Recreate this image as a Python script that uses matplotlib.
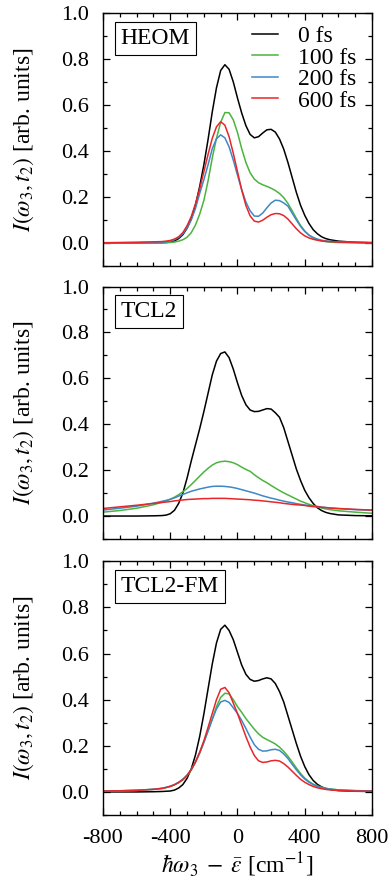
import numpy as np
import matplotlib
matplotlib.use("Agg")
import matplotlib.pyplot as plt
from matplotlib.ticker import MultipleLocator

plt.rcParams['font.family'] = ['Liberation Serif', 'STIXGeneral', 'DejaVu Serif']
plt.rcParams['mathtext.fontset'] = 'stix'
plt.rcParams['axes.unicode_minus'] = False

# energy axis (cm^-1)
energy = [-800, -700, -600, -500,
          -450, -425, -400, -375, -350, -325, -300, -275, -250, -225, -200, -175,
          -150, -125, -100, -75, -50, -25, 0, 25, 50, 75, 100, 125, 150, 175,
          200, 225, 250, 275, 300, 325, 350, 375, 400, 425, 450, 475, 500, 525, 550,
          600, 700, 800]

times = ['0 fs', '100 fs', '200 fs', '600 fs']
colors = ['black', '#4cb33f', '#3f88c5', '#e8262a']
methods = ['HEOM', 'TCL2', 'TCL2-FM']

# HEOM
heom_0 = [0.0, 0.0, 0.0, 0.001,
          0.001, 0.002, 0.004, 0.009, 0.019, 0.036, 0.064, 0.105, 0.165, 0.245, 0.34, 0.45,
          0.57, 0.675, 0.75, 0.775, 0.755, 0.7, 0.63, 0.565, 0.51, 0.472, 0.457, 0.462, 0.478, 0.492,
          0.494, 0.482, 0.452, 0.408, 0.35, 0.285, 0.22, 0.164, 0.12, 0.085, 0.058, 0.04, 0.027, 0.019, 0.014,
          0.008, 0.003, 0.001]
heom_100 = [0.0, 0.0, 0.0, 0.0,
            0.001, 0.001, 0.002, 0.004, 0.008, 0.014, 0.025, 0.045, 0.078, 0.125, 0.185, 0.27,
            0.37, 0.455, 0.525, 0.567, 0.566, 0.535, 0.48, 0.41, 0.35, 0.305, 0.278, 0.262, 0.253, 0.246,
            0.238, 0.228, 0.215, 0.197, 0.172, 0.14, 0.107, 0.076, 0.052, 0.034, 0.022, 0.014, 0.009, 0.006, 0.004,
            0.002, 0.001, 0.0]
heom_200 = [0.001, 0.001, 0.002, 0.003,
            0.004, 0.005, 0.007, 0.014, 0.024, 0.04, 0.065, 0.1, 0.15, 0.215, 0.275, 0.34,
            0.41, 0.453, 0.47, 0.457, 0.418, 0.36, 0.295, 0.232, 0.178, 0.14, 0.117, 0.116, 0.13, 0.153,
            0.174, 0.186, 0.184, 0.174, 0.16, 0.13, 0.1, 0.072, 0.05, 0.034, 0.024, 0.017, 0.012, 0.009, 0.007,
            0.005, 0.003, 0.002]
heom_600 = [0.001, 0.002, 0.003, 0.005,
            0.006, 0.008, 0.011, 0.017, 0.027, 0.045, 0.075, 0.115, 0.17, 0.235, 0.31, 0.385,
            0.455, 0.505, 0.527, 0.512, 0.462, 0.39, 0.31, 0.23, 0.163, 0.118, 0.095, 0.091, 0.099, 0.112,
            0.123, 0.128, 0.127, 0.119, 0.104, 0.083, 0.062, 0.044, 0.031, 0.022, 0.016, 0.012, 0.009, 0.007, 0.006,
            0.004, 0.002, 0.001]

# TCL2
tcl_0 = [0.0, 0.0, 0.0, 0.001,
         0.002, 0.004, 0.01, 0.025, 0.055, 0.1, 0.165, 0.24, 0.31, 0.38, 0.455, 0.535,
         0.615, 0.675, 0.708, 0.715, 0.69, 0.64, 0.58, 0.525, 0.485, 0.462, 0.455, 0.456, 0.462, 0.468,
         0.466, 0.45, 0.43, 0.385, 0.325, 0.265, 0.205, 0.155, 0.112, 0.08, 0.055, 0.036, 0.024, 0.016, 0.011,
         0.005, 0.002, 0.001]
tcl_100 = [0.017, 0.024, 0.034, 0.049,
           0.06, 0.066, 0.073, 0.082, 0.093, 0.106, 0.12, 0.137, 0.155, 0.174, 0.192, 0.208,
           0.222, 0.232, 0.237, 0.239, 0.237, 0.232, 0.224, 0.213, 0.203, 0.195, 0.18, 0.167, 0.155, 0.145,
           0.133, 0.122, 0.111, 0.101, 0.092, 0.083, 0.074, 0.065, 0.058, 0.051, 0.045, 0.04, 0.035, 0.031, 0.028,
           0.023, 0.017, 0.012]
tcl_200 = [0.026, 0.034, 0.043, 0.056,
           0.064, 0.068, 0.073, 0.079, 0.087, 0.094, 0.101, 0.108, 0.113, 0.118, 0.122, 0.126,
           0.129, 0.13, 0.13, 0.129, 0.127, 0.124, 0.12, 0.115, 0.11, 0.105, 0.1, 0.094, 0.088, 0.083,
           0.078, 0.074, 0.069, 0.065, 0.061, 0.058, 0.054, 0.051, 0.048, 0.046, 0.044, 0.042, 0.039, 0.037, 0.035,
           0.032, 0.028, 0.025]
tcl_600 = [0.033, 0.04, 0.047, 0.055,
           0.059, 0.061, 0.063, 0.066, 0.068, 0.07, 0.072, 0.073, 0.074, 0.075, 0.076, 0.076,
           0.077, 0.077, 0.077, 0.077, 0.076, 0.075, 0.074, 0.073, 0.072, 0.071, 0.069, 0.068, 0.066, 0.064,
           0.062, 0.06, 0.058, 0.055, 0.053, 0.051, 0.049, 0.048, 0.046, 0.043, 0.041, 0.04, 0.038, 0.037, 0.035,
           0.033, 0.029, 0.026]

# TCL2-FM
fm_0 = [0.0, 0.0, 0.0, 0.001,
        0.002, 0.003, 0.004, 0.008, 0.017, 0.032, 0.059, 0.1, 0.16, 0.24, 0.338, 0.447,
        0.555, 0.646, 0.705, 0.723, 0.7, 0.66, 0.605, 0.55, 0.51, 0.488, 0.48, 0.483, 0.49, 0.495,
        0.49, 0.47, 0.435, 0.39, 0.33, 0.27, 0.21, 0.155, 0.11, 0.075, 0.05, 0.033, 0.022, 0.015, 0.011,
        0.006, 0.003, 0.002]
fm_100 = [0.004, 0.005, 0.007, 0.011,
          0.015, 0.019, 0.024, 0.031, 0.04, 0.052, 0.07, 0.095, 0.128, 0.168, 0.215, 0.265,
          0.315, 0.37, 0.41, 0.428, 0.425, 0.4, 0.37, 0.345, 0.318, 0.295, 0.272, 0.252, 0.237, 0.227,
          0.218, 0.208, 0.194, 0.176, 0.155, 0.13, 0.104, 0.08, 0.06, 0.045, 0.034, 0.026, 0.02, 0.016, 0.013,
          0.009, 0.005, 0.003]
fm_200 = [0.004, 0.005, 0.007, 0.012,
          0.016, 0.02, 0.025, 0.032, 0.042, 0.055, 0.073, 0.098, 0.13, 0.17, 0.215, 0.265,
          0.315, 0.36, 0.39, 0.397, 0.388, 0.365, 0.34, 0.31, 0.275, 0.238, 0.205, 0.185, 0.177, 0.178,
          0.183, 0.185, 0.18, 0.165, 0.145, 0.12, 0.096, 0.074, 0.056, 0.042, 0.032, 0.024, 0.019, 0.015, 0.012,
          0.009, 0.006, 0.004]
fm_600 = [0.004, 0.005, 0.007, 0.011,
          0.015, 0.019, 0.024, 0.031, 0.041, 0.054, 0.072, 0.097, 0.13, 0.172, 0.222, 0.28,
          0.34, 0.4, 0.445, 0.453, 0.43, 0.385, 0.34, 0.29, 0.24, 0.195, 0.158, 0.135, 0.128, 0.13,
          0.135, 0.137, 0.134, 0.123, 0.108, 0.09, 0.072, 0.055, 0.042, 0.032, 0.024, 0.018, 0.014, 0.011, 0.009,
          0.006, 0.004, 0.003]

panels = [[heom_0, heom_100, heom_200, heom_600],
          [tcl_0, tcl_100, tcl_200, tcl_600],
          [fm_0, fm_100, fm_200, fm_600]]

fig = plt.figure(figsize=(3.91, 8.81), dpi=100)
# axes boxes in figure fractions [left, bottom, width, height]
boxes = [[0.2634, 0.6981, 0.688, 0.2872],
         [0.2634, 0.3882, 0.688, 0.2866],
         [0.2634, 0.0749, 0.688, 0.2880]]

for i, (box, curves) in enumerate(zip(boxes, panels)):
    ax = fig.add_axes(box)
    for y, c, lab in zip(curves, colors, times):
        ax.plot(energy, y, color=c, lw=1.1, label=lab)
    ax.set_xlim(-800, 800)
    ax.set_ylim(-0.1, 1.0)
    ax.xaxis.set_major_locator(MultipleLocator(400))
    ax.xaxis.set_minor_locator(MultipleLocator(100))
    ax.yaxis.set_minor_locator(MultipleLocator(0.1))
    ax.set_yticks([0.0, 0.2, 0.4, 0.6, 0.8, 1.0])
    ax.set_yticklabels(['0.0', '0.2', '0.4', '0.6', '0.8', '1.0'])
    ax.tick_params(which='both', direction='in', top=True, right=True, labelsize=16, pad=10)
    ax.tick_params(which='major', length=5, width=0.9)
    ax.tick_params(which='minor', length=3, width=0.9)
    for s in ax.spines.values():
        s.set_linewidth(1.0)
    ax.set_ylabel(r'$I(\omega_3, t_2)$ [arb. units]', fontsize=17, labelpad=18)
    ax.text(0.066, 0.9, methods[i], transform=ax.transAxes, fontsize=17,
            ha='left', va='center',
            bbox=dict(boxstyle='square,pad=0.25', fc='white', ec='black', lw=0.8))
    if i == 0:
        ax.legend(loc='upper left', bbox_to_anchor=(0.553, 0.95), frameon=False,
                  fontsize=17, handlelength=1.1, handletextpad=0.85,
                  labelspacing=0.0, borderpad=0, borderaxespad=0)
    if i < 2:
        ax.set_xticklabels([])
    else:
        ax.set_xticks([-800, -400, 0, 400, 800])
        ax.set_xticklabels(['-800', '-400', '0', '400', '800'])
        ax.set_xlabel(r'$\hbar\omega_3\;-\;\bar{\epsilon}$ [cm$^{-1}$]', fontsize=17, labelpad=2)

fig.savefig('out.png', dpi=100)
